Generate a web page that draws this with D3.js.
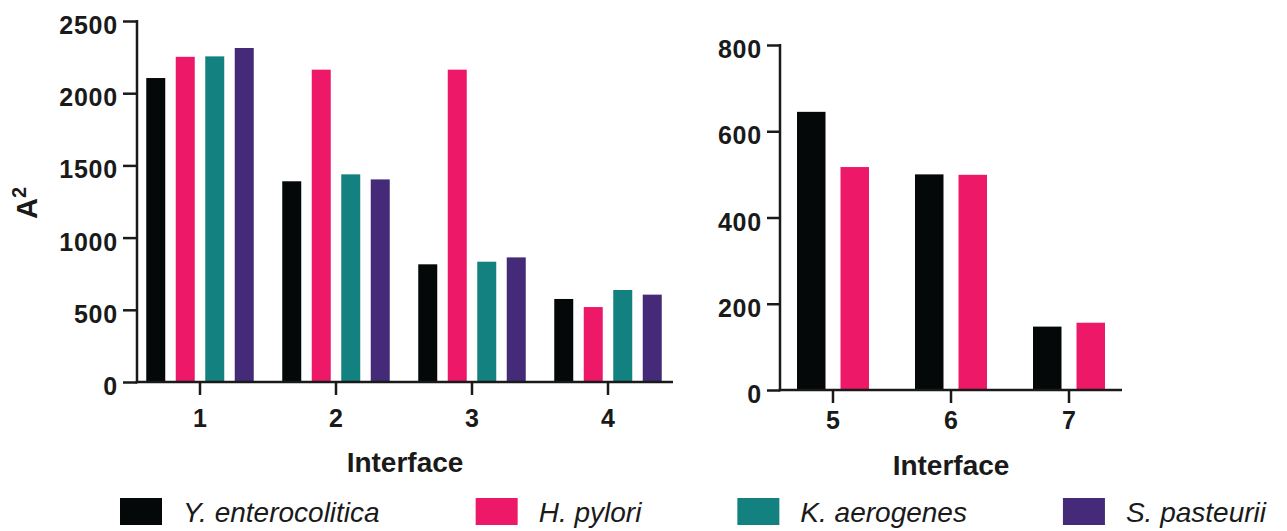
<!DOCTYPE html>
<html>
<head>
<meta charset="utf-8">
<script src="https://cdn.jsdelivr.net/npm/d3@7"></script>
<style>
  html, body { margin: 0; padding: 0; background: #fff; }
  svg { display: block; }
  text { font-family: "Liberation Sans", Arial, Helvetica, sans-serif; fill: #1a1a1a; }
</style>
</head>
<body>
<svg id="chart" width="1287" height="531"></svg>
<script>
// ---------- DATA ----------
const seriesNames = ["Y. enterocolitica", "H. pylori", "K. aerogenes", "S. pasteurii"];
const seriesColors = ["#050808", "#ED1868", "#12817F", "#452A7A"];

const leftCategories = ["1", "2", "3", "4"];
const yEnterocoliticaLeft = [2105, 1390, 815, 575];
const hPyloriLeft         = [2252, 2163, 2163, 519];
const kAerogenesLeft      = [2255, 1438, 833, 637];
const sPasteuriiLeft      = [2313, 1403, 863, 605];
const leftTicks = [0, 500, 1000, 1500, 2000, 2500];

const rightCategories = ["5", "6", "7"];
const yEnterocoliticaRight = [645, 500, 147];
const hPyloriRight         = [517, 499, 156];
const rightTicks = [0, 200, 400, 600, 800];

const yLabelBase = "A";
const yLabelSup = "2";
const xLabel = "Interface";

// ---------- DRAW ----------
const svg = d3.select("#chart");
const axisColor = "#1a1a1a";

function panel(opts) {
  const g = svg.append("g");
  const y = d3.scaleLinear().domain(opts.yDomain).range([opts.bottom, opts.top]);
  const x0 = d3.scaleBand().domain(opts.categories).range([opts.bandStart, opts.bandEnd]).padding(0);
  const half = opts.groupWidth / 2;
  const x1 = d3.scaleBand().domain(opts.series.map(s => s.name)).range([-half, half])
    .paddingInner(opts.innerPad).paddingOuter(0);

  // bars
  opts.series.forEach(s => {
    g.append("g").selectAll("rect")
      .data(opts.categories.map((c, i) => ({ c, v: s.values[i] })))
      .join("rect")
      .attr("x", d => x0(d.c) + x0.bandwidth() / 2 + x1(s.name))
      .attr("width", x1.bandwidth())
      .attr("y", d => y(d.v))
      .attr("height", d => y(0) - y(d.v))
      .attr("fill", s.color);
  });

  // y axis
  const yAxis = d3.axisLeft(y).tickValues(opts.yTicks).tickFormat(d3.format("d"))
    .tickSize(opts.yTickSize).tickPadding(5).tickSizeOuter(0);
  const ya = g.append("g").attr("transform", `translate(${opts.axisLeft},0)`).call(yAxis);
  ya.select(".domain").remove();
  ya.selectAll(".tick line").attr("stroke", axisColor).attr("stroke-width", 2.5);
  ya.selectAll(".tick text")
    .attr("font-size", 25).attr("font-weight", "bold").attr("dy", "0.5em")
    .style("font-family", '"Liberation Sans", Arial, sans-serif').attr("fill", axisColor)
    .attr("letter-spacing", 0.8);
  g.append("line")
    .attr("x1", opts.axisLeft).attr("x2", opts.axisLeft)
    .attr("y1", y(opts.yDomain[1]) - 1).attr("y2", y(0) + 1.25)
    .attr("stroke", axisColor).attr("stroke-width", 2.5);

  // x axis
  const xAxis = d3.axisBottom(x0).tickSize(opts.xTickSize).tickPadding(opts.xTickPad).tickSizeOuter(0);
  const xa = g.append("g").attr("transform", `translate(0,${y(0)})`).call(xAxis);
  xa.select(".domain").remove();
  xa.selectAll(".tick line").attr("stroke", axisColor).attr("stroke-width", 2.5);
  xa.selectAll(".tick text")
    .attr("font-size", 25).attr("font-weight", "bold")
    .style("font-family", '"Liberation Sans", Arial, sans-serif').attr("fill", axisColor);
  g.append("line")
    .attr("x1", opts.axisLeft - 1.25).attr("x2", opts.axisRight)
    .attr("y1", y(0)).attr("y2", y(0))
    .attr("stroke", axisColor).attr("stroke-width", 2.5);

  // x title
  g.append("text")
    .attr("x", (opts.axisLeft + opts.axisRight) / 2)
    .attr("y", opts.titleY)
    .attr("text-anchor", "middle")
    .attr("font-size", 28).attr("font-weight", "bold")
    .text(xLabel);
  return g;
}

panel({
  categories: leftCategories,
  series: [
    { name: seriesNames[0], color: seriesColors[0], values: yEnterocoliticaLeft },
    { name: seriesNames[1], color: seriesColors[1], values: hPyloriLeft },
    { name: seriesNames[2], color: seriesColors[2], values: kAerogenesLeft },
    { name: seriesNames[3], color: seriesColors[3], values: sPasteuriiLeft }
  ],
  yDomain: [0, 2500], yTicks: leftTicks,
  top: 21, bottom: 382,
  bandStart: 132, bandEnd: 676,
  groupWidth: 107.5, innerPad: 0.356,
  axisLeft: 137, axisRight: 673,
  yTickSize: 14, xTickSize: 13, xTickPad: 14,
  titleY: 472
});

panel({
  categories: rightCategories,
  series: [
    { name: seriesNames[0], color: seriesColors[0], values: yEnterocoliticaRight },
    { name: seriesNames[1], color: seriesColors[1], values: hPyloriRight }
  ],
  yDomain: [0, 800], yTicks: rightTicks,
  top: 45, bottom: 390,
  bandStart: 774, bandEnd: 1128,
  groupWidth: 72, innerPad: 0.345,
  axisLeft: 780, axisRight: 1122,
  yTickSize: 13, xTickSize: 13, xTickPad: 8,
  titleY: 475
});

// y-axis title (left panel)
const yt = svg.append("text")
  .attr("transform", "translate(37,203) rotate(-90)")
  .attr("text-anchor", "middle")
  .attr("font-size", 29).attr("font-weight", "bold");
yt.append("tspan").text(yLabelBase);
yt.append("tspan").attr("font-size", 20).attr("dy", -11).text(yLabelSup);

// legend
const legend = svg.append("g");
let lx = 120;
seriesNames.forEach((name, i) => {
  legend.append("rect")
    .attr("x", lx).attr("y", 498).attr("width", 42).attr("height", 27)
    .attr("fill", seriesColors[i]);
  const t = legend.append("text")
    .attr("x", lx + 63).attr("y", 522)
    .attr("font-size", 28).attr("font-style", "italic")
    .attr("fill", "#1a1a1a")
    .text(name);
  lx = lx + 63 + t.node().getComputedTextLength() + 96;
});
</script>
</body>
</html>
